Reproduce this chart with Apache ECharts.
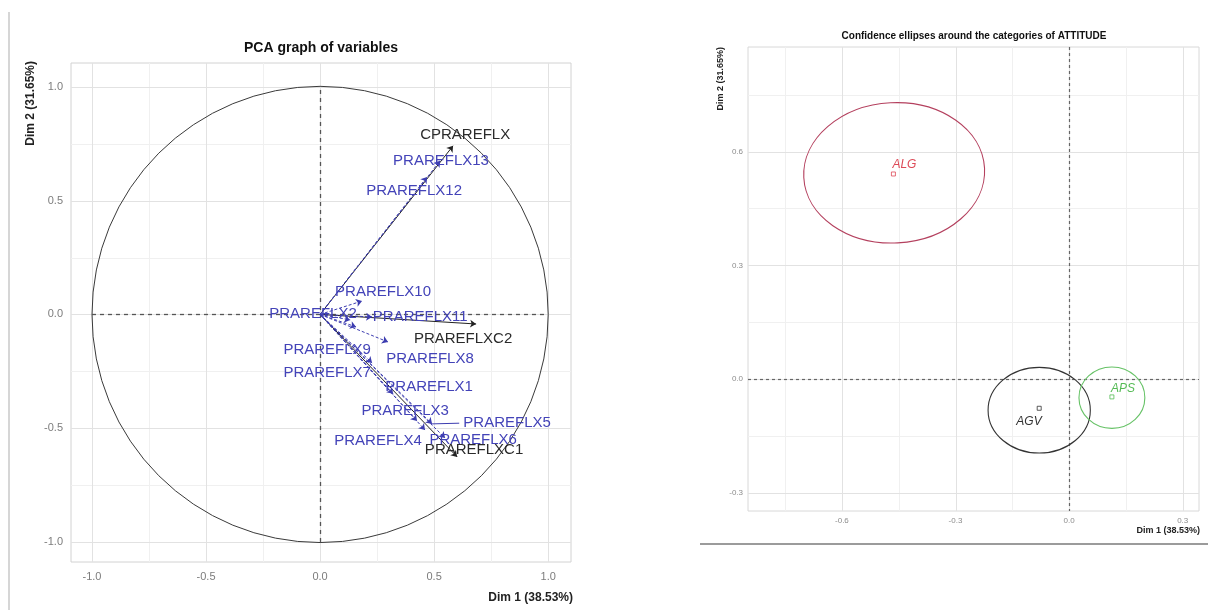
<!DOCTYPE html>
<html><head><meta charset="utf-8">
<script src="https://cdn.jsdelivr.net/npm/echarts@6/dist/echarts.min.js"></script>
<style>html,body{margin:0;padding:0;background:#fff}#c{width:1208px;height:610px}</style>
</head><body><div id="c"></div>
<script>
// ---------- Left panel: PCA graph of variables ----------
const varNames = ['CPRAREFLX','PRAREFLXC2','PRAREFLXC1',
  'PRAREFLX1','PRAREFLX2','PRAREFLX3','PRAREFLX4','PRAREFLX5','PRAREFLX6','PRAREFLX7',
  'PRAREFLX8','PRAREFLX9','PRAREFLX10','PRAREFLX11','PRAREFLX12','PRAREFLX13'];
const varDim1 = [0.583, 0.684, 0.601, 0.320, 0.132, 0.425, 0.460, 0.491, 0.548, 0.228, 0.298, 0.158, 0.184, 0.228, 0.469, 0.526];
const varDim2 = [0.741, -0.042, -0.626, -0.349, -0.024, -0.468, -0.508, -0.481, -0.543, -0.213, -0.121, -0.055, 0.059, -0.011, 0.604, 0.675];
const varLabelDim1 = [0.636, 0.627, 0.675, 0.478, -0.031, 0.373, 0.254, 0.820, 0.671, 0.031, 0.482, 0.031, 0.276, 0.439, 0.412, 0.530];
const varLabelDim2 = [0.789, -0.108, -0.596, -0.319, 0.002, -0.424, -0.556, -0.477, -0.552, -0.257, -0.196, -0.156, 0.099, -0.011, 0.543, 0.675];
const varActive = [true, true, true, false, false, false, false, false, false, false, false, false, false, false, false, false];
const repelSegments = [{from: 7, to: [0.61, -0.478]}];
const leftMajorTicks = [-1.0, -0.5, 0.0, 0.5, 1.0];
const leftMinorTicks = [-0.75, -0.25, 0.25, 0.75];
const corCircleRadius = 1;
const leftRefExtent = 1;

// ---------- Right panel: confidence ellipses ----------
const catNames = ['ALG', 'AGV', 'APS'];
const catDim1 = [-0.464, -0.079, 0.113];
const catDim2 = [0.541, -0.077, -0.047];
const catLabelDim1 = [-0.435, -0.106, 0.142];
const catLabelDim2 = [0.565, -0.111, -0.026];
const ellCenterDim1 = [-0.462, -0.079, 0.113];
const ellCenterDim2 = [0.544, -0.082, -0.049];
const ellRadius1 = [0.239, 0.135, 0.087];
const ellRadius2 = [0.185, 0.113, 0.081];
const ellAngleDeg = [3, 0, 0];
const rightXMajor = [-0.6, -0.3, 0.0, 0.3];
const rightXMinor = [-0.75, -0.45, -0.15, 0.15];
const rightYMajor = [-0.3, 0.0, 0.3, 0.6];
const rightYMinor = [-0.15, 0.15, 0.45, 0.75];

const catEllColor = ['#b4405e', '#333333', '#66c266'];
const catTextColor = ['#dd4a57', '#333333', '#55bb55'];
const blue = '#3d3db0';
const FONT = '"Liberation Sans", Arial, sans-serif';

function vGrid(gi, values, color, width) {
  return {type:'custom', xAxisIndex:gi, yAxisIndex:gi, silent:true, z:1, clip:false,
    data: values.map(v => [v, 0]), encode:{x:0, y:1},
    renderItem: (params, api) => {
      const cs = params.coordSys;
      const x = Math.round(api.coord([api.value(0), 0])[0]) + 0.5;
      return {type:'line', shape:{x1:x, y1:cs.y, x2:x, y2:cs.y + cs.height}, style:{stroke:color, lineWidth:width}};
    }};
}
function hGrid(gi, values, color, width) {
  return {type:'custom', xAxisIndex:gi, yAxisIndex:gi, silent:true, z:1, clip:false,
    data: values.map(v => [0, v]), encode:{x:0, y:1},
    renderItem: (params, api) => {
      const cs = params.coordSys;
      const y = Math.round(api.coord([0, api.value(1)])[1]) + 0.5;
      return {type:'line', shape:{x1:cs.x, y1:y, x2:cs.x + cs.width, y2:y}, style:{stroke:color, lineWidth:width}};
    }};
}

const chart = echarts.init(document.getElementById('c'));
const axisCommon = {type:'value', axisLine:{show:false}, axisTick:{show:false}, splitLine:{show:false}};

const option = {
  animation: false,
  backgroundColor: '#ffffff',
  grid: [
    {left:71, top:63, width:500, height:499, show:true, borderColor:'#d2d2d2', borderWidth:1, backgroundColor:'#fff'},
    {left:748, top:47, width:451, height:464, show:true, borderColor:'#d8d8d8', borderWidth:1, backgroundColor:'#fff'}
  ],
  xAxis: [
    Object.assign({}, axisCommon, {gridIndex:0, min:-1.092, max:1.1,
      axisLabel:{customValues:leftMajorTicks, formatter:v => v.toFixed(1), color:'#7c7c7c', fontSize:11, fontFamily:FONT, margin:9}}),
    Object.assign({}, axisCommon, {gridIndex:1, min:-0.848, max:0.343,
      axisLabel:{customValues:rightXMajor, formatter:v => v.toFixed(1), color:'#8c8c8c', fontSize:8, fontFamily:FONT, margin:6}})
  ],
  yAxis: [
    Object.assign({}, axisCommon, {gridIndex:0, min:-1.088, max:1.105,
      axisLabel:{customValues:leftMajorTicks, formatter:v => v.toFixed(1), color:'#7c7c7c', fontSize:11, fontFamily:FONT, margin:8}}),
    Object.assign({}, axisCommon, {gridIndex:1, min:-0.348, max:0.876,
      axisLabel:{customValues:rightYMajor, formatter:v => v.toFixed(1), color:'#8c8c8c', fontSize:8, fontFamily:FONT, margin:5}})
  ],
  graphic: [
    {type:'text', left:'center', x:0, style:{}, invisible:true},
    {type:'text', x:321, y:48, style:{text:'PCA graph of variables', font:'bold 14px ' + FONT, fill:'#111', align:'center', verticalAlign:'middle'}},
    {type:'text', x:573, y:598, style:{text:'Dim 1 (38.53%)', font:'bold 12px ' + FONT, fill:'#222', align:'right', verticalAlign:'middle'}},
    {type:'text', x:31, y:61, rotation:Math.PI/2, style:{text:'Dim 2 (31.65%)', font:'bold 12px ' + FONT, fill:'#222', align:'right', verticalAlign:'middle'}},
    {type:'text', x:974, y:36, style:{text:'Confidence ellipses around the categories of ATTITUDE', font:'bold 10px ' + FONT, fill:'#111', align:'center', verticalAlign:'middle'}},
    {type:'text', x:1200, y:531, style:{text:'Dim 1 (38.53%)', font:'bold 9px ' + FONT, fill:'#222', align:'right', verticalAlign:'middle'}},
    {type:'text', x:721, y:47, rotation:Math.PI/2, style:{text:'Dim 2 (31.65%)', font:'bold 9px ' + FONT, fill:'#222', align:'right', verticalAlign:'middle'}},
    {type:'line', shape:{x1:9, y1:12, x2:9, y2:610}, style:{stroke:'#c8c8c8', lineWidth:1.5}},
    {type:'line', shape:{x1:700, y1:544, x2:1208, y2:544}, style:{stroke:'#7a7a7a', lineWidth:1.5}}
  ],
  series: [
    // left grid lines
    vGrid(0, leftMinorTicks, '#f0f0f0', 1),
    hGrid(0, leftMinorTicks, '#f0f0f0', 1),
    vGrid(0, leftMajorTicks, '#e2e2e2', 1),
    hGrid(0, leftMajorTicks, '#e2e2e2', 1),
    // right grid lines
    vGrid(1, rightXMinor, '#f0f0f0', 1),
    hGrid(1, rightYMinor, '#f0f0f0', 1),
    vGrid(1, rightXMajor, '#e2e2e2', 1),
    hGrid(1, rightYMajor, '#e2e2e2', 1),
    // correlation circle
    {type:'custom', xAxisIndex:0, yAxisIndex:0, silent:true, z:3, clip:false,
      data:[[0, 0, corCircleRadius]], encode:{x:0, y:1},
      renderItem:(params, api) => {
        const c = api.coord([api.value(0), api.value(1)]);
        const r = api.size([api.value(2), 0])[0];
        return {type:'circle', shape:{cx:c[0], cy:c[1], r:r}, style:{fill:'none', stroke:'#3a3a3a', lineWidth:1}};
      }},
    // left reference lines
    {type:'lines', coordinateSystem:'cartesian2d', xAxisIndex:0, yAxisIndex:0, silent:true, z:3,
      symbol:['none','none'],
      lineStyle:{color:'#555', width:1.3, type:[4,4], opacity:1},
      data:[{coords:[[-leftRefExtent, 0], [leftRefExtent, 0]]}, {coords:[[0, -leftRefExtent], [0, leftRefExtent]]}]},
    // arrows
    {type:'lines', coordinateSystem:'cartesian2d', xAxisIndex:0, yAxisIndex:0, silent:true, z:4,
      symbol:['none','arrow'], symbolSize:6,
      data: varNames.map((n, i) => ({coords:[[0, 0], [varDim1[i], varDim2[i]]],
        lineStyle:{color: varActive[i] ? '#222' : blue, width:1, type: varActive[i] ? 'solid' : [3,2], opacity:1}}))},
    // repel segments
    {type:'lines', coordinateSystem:'cartesian2d', xAxisIndex:0, yAxisIndex:0, silent:true, z:4,
      symbol:['none','none'],
      data: repelSegments.map(s => ({coords:[[varDim1[s.from], varDim2[s.from]], s.to],
        lineStyle:{color: blue, width:1, type:'solid', opacity:1}}))},
    // variable labels
    {type:'custom', xAxisIndex:0, yAxisIndex:0, silent:true, z:5, clip:false,
      data: varNames.map((n, i) => [varLabelDim1[i], varLabelDim2[i], i]), encode:{x:0, y:1},
      renderItem:(params, api) => {
        const i = api.value(2);
        const p = api.coord([api.value(0), api.value(1)]);
        return {type:'text', x:p[0], y:p[1], style:{text:varNames[i], font:'15px ' + FONT,
          fill: varActive[i] ? '#2a2a2a' : '#4343b8', align:'center', verticalAlign:'middle'}};
      }},
    // right reference lines (full panel)
    {type:'custom', xAxisIndex:1, yAxisIndex:1, silent:true, z:3, clip:false,
      data:[[0, 0]], encode:{x:0, y:1},
      renderItem:(params, api) => {
        const cs = params.coordSys;
        const c = api.coord([api.value(0), api.value(1)]);
        const st = {stroke:'#666', lineWidth:1.2, lineDash:[3,3]};
        return {type:'group', children:[
          {type:'line', shape:{x1:cs.x, y1:Math.round(c[1]) + 0.5, x2:cs.x + cs.width, y2:Math.round(c[1]) + 0.5}, style:st},
          {type:'line', shape:{x1:Math.round(c[0]) + 0.5, y1:cs.y, x2:Math.round(c[0]) + 0.5, y2:cs.y + cs.height}, style:st}
        ]};
      }},
    // ellipses
    {type:'custom', xAxisIndex:1, yAxisIndex:1, silent:true, z:4, clip:false,
      data: catNames.map((n, i) => [ellCenterDim1[i], ellCenterDim2[i], ellRadius1[i], ellRadius2[i], ellAngleDeg[i], i]),
      encode:{x:0, y:1},
      renderItem:(params, api) => {
        const c = api.coord([api.value(0), api.value(1)]);
        const s = api.size([api.value(2), api.value(3)]);
        const i = api.value(5);
        return {type:'ellipse', x:c[0], y:c[1], rotation: api.value(4) * Math.PI / 180,
          shape:{cx:0, cy:0, rx:s[0], ry:s[1]}, style:{fill:'none', stroke:catEllColor[i], lineWidth:1.1}};
      }},
    // category points
    {type:'scatter', xAxisIndex:1, yAxisIndex:1, silent:true, z:5, symbol:'rect', symbolSize:4,
      data: catNames.map((n, i) => ({value:[catDim1[i], catDim2[i]],
        itemStyle:{color:'rgba(255,255,255,0)', borderColor:catTextColor[i], borderWidth:1}}))},
    // category labels
    {type:'custom', xAxisIndex:1, yAxisIndex:1, silent:true, z:5, clip:false,
      data: catNames.map((n, i) => [catLabelDim1[i], catLabelDim2[i], i]), encode:{x:0, y:1},
      renderItem:(params, api) => {
        const i = api.value(2);
        const p = api.coord([api.value(0), api.value(1)]);
        return {type:'text', x:p[0], y:p[1], style:{text:catNames[i], font:'italic 12px ' + FONT,
          fill:catTextColor[i], align:'center', verticalAlign:'middle'}};
      }}
  ]
};
option.graphic.shift();
chart.setOption(option);
</script>
</body></html>
